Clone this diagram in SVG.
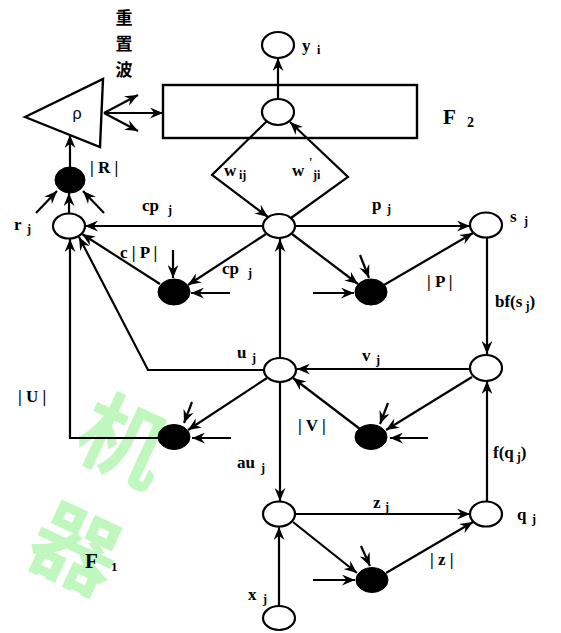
<svg xmlns="http://www.w3.org/2000/svg" width="561" height="633" viewBox="0 0 561 633">
<defs>
<marker id="a" viewBox="0 0 12 10" refX="12" refY="5" markerWidth="13" markerHeight="11" markerUnits="userSpaceOnUse" orient="auto">
<path d="M0,0 L12,5 L0,10 L4,5 z" fill="#000"/>
</marker>
<style>
.n{fill:#fff;stroke:#000;stroke-width:2.2}
.b{fill:#000;stroke:#000;stroke-width:1}
.c line,.c polyline{stroke:#000;stroke-width:2.2;fill:none;marker-end:url(#a)}
.p{stroke:#000;stroke-width:2.4;fill:#fff}
text{font-family:"Liberation Serif","Times New Roman",serif;font-weight:bold;font-size:17px;fill:#000}
.s{font-size:12px}
.w{font-family:"Noto Sans CJK SC",sans-serif;font-size:88px;fill:#bff7bf;font-weight:bold}
.h{font-family:"Noto Sans CJK SC",sans-serif;font-size:17px;font-weight:bold}
</style>
</defs>
<rect width="561" height="633" fill="#fff"/>
<g id="watermark">
<text class="w" x="0" y="0" transform="translate(110,470) rotate(25)" text-anchor="middle">机</text>
<text class="w" x="0" y="0" transform="translate(62,578) rotate(25)" text-anchor="middle">器</text>
</g>
<g id="F2-box"><rect class="p" x="163" y="85" width="254" height="53"/></g>
<g id="rho"><polygon class="p" points="25,117 103,79 100,147"/><text x="77" y="119" text-anchor="middle" style="font-family:'Liberation Sans',sans-serif;font-weight:normal;font-size:16px">ρ</text></g>
<g id="connectors" class="c">
<line x1="278" y1="99" x2="278" y2="58"/>
<line x1="70" y1="167" x2="70" y2="135"/>
<line x1="104" y1="113" x2="138" y2="95"/>
<line x1="104" y1="113" x2="163" y2="113"/>
<line x1="104" y1="113" x2="138" y2="131"/>
<line x1="36" y1="213" x2="57" y2="191"/>
<line x1="104" y1="213" x2="83" y2="191"/>
<line x1="69" y1="213" x2="69" y2="193"/>
<line x1="263" y1="226" x2="85" y2="226"/>
<line x1="295" y1="226" x2="470" y2="226"/>
<polyline points="267,121 212,175 268,217"/>
<polyline points="291,218 348,177 290,122"/>
<line x1="266" y1="234" x2="188" y2="285"/>
<line x1="173" y1="250" x2="173" y2="278"/>
<line x1="230" y1="293" x2="191" y2="293"/>
<line x1="160" y1="284" x2="82" y2="234"/>
<line x1="292" y1="234" x2="358" y2="284"/>
<line x1="360" y1="255" x2="369" y2="278"/>
<line x1="313" y1="293" x2="354" y2="293"/>
<line x1="384" y1="285" x2="473" y2="233"/>
<line x1="487" y1="238" x2="487" y2="354"/>
<line x1="470" y1="369" x2="297" y2="369"/>
<line x1="280" y1="358" x2="280" y2="239"/>
<polyline points="264,370 148,370 79,237"/>
<line x1="267" y1="378" x2="188" y2="430"/>
<line x1="192" y1="402" x2="184" y2="423"/>
<line x1="231" y1="438" x2="192" y2="438"/>
<polyline points="158,438 70,438 70,239"/>
<line x1="472" y1="377" x2="386" y2="430"/>
<line x1="388" y1="403" x2="380" y2="424"/>
<line x1="428" y1="438" x2="390" y2="438"/>
<line x1="360" y1="429" x2="293" y2="378"/>
<line x1="487" y1="501" x2="487" y2="381"/>
<line x1="280" y1="382" x2="280" y2="501"/>
<line x1="295" y1="514" x2="470" y2="514"/>
<line x1="293" y1="522" x2="357" y2="573"/>
<line x1="361" y1="546" x2="370" y2="566"/>
<line x1="313" y1="580" x2="355" y2="580"/>
<line x1="386" y1="573" x2="473" y2="522"/>
<line x1="279" y1="606" x2="279" y2="527"/>
</g>
<g id="yi"><ellipse class="n" cx="278" cy="45" rx="16" ry="13"/></g>
<g id="F2node"><ellipse class="n" cx="278" cy="112" rx="16" ry="13"/></g>
<g id="R"><ellipse class="b" cx="70" cy="180" rx="15" ry="13"/></g>
<g id="rj"><ellipse class="n" cx="69" cy="226" rx="16" ry="12.5"/></g>
<g id="center"><ellipse class="n" cx="279" cy="226" rx="16" ry="12"/></g>
<g id="sj"><ellipse class="n" cx="486" cy="225" rx="16" ry="12.5"/></g>
<g id="A"><ellipse class="b" cx="174" cy="292" rx="16" ry="13"/></g>
<g id="B"><ellipse class="b" cx="371" cy="292" rx="16" ry="13"/></g>
<g id="uj"><ellipse class="n" cx="280" cy="370" rx="16" ry="12"/></g>
<g id="vnode"><ellipse class="n" cx="486" cy="368" rx="16" ry="13"/></g>
<g id="C"><ellipse class="b" cx="174" cy="437" rx="16" ry="12.5"/></g>
<g id="D"><ellipse class="b" cx="371" cy="437" rx="16" ry="12.5"/></g>
<g id="znode"><ellipse class="n" cx="279" cy="514" rx="16" ry="12.5"/></g>
<g id="qj"><ellipse class="n" cx="486" cy="514" rx="16" ry="12.5"/></g>
<g id="E"><ellipse class="b" cx="372" cy="580" rx="16" ry="12.5"/></g>
<g id="xj"><ellipse class="n" cx="279" cy="618" rx="16" ry="12"/></g>
<g id="labels">
<text class="h" x="124" y="24" text-anchor="middle">重</text>
<text class="h" x="124" y="50" text-anchor="middle">置</text>
<text class="h" x="124" y="76" text-anchor="middle">波</text>
<text x="302" y="51">y</text><text class="s" x="317" y="54">i</text>
<text x="443" y="124" style="font-size:21px">F</text><text x="467" y="127" style="font-size:14px">2</text>
<text x="90" y="173">| R |</text>
<text x="14" y="230">r</text><text class="s" x="27" y="233">j</text>
<text x="142" y="211">cp</text><text class="s" x="168" y="214">j</text>
<text x="372" y="210">p</text><text class="s" x="387" y="213">j</text>
<text x="510" y="222">s</text><text class="s" x="524" y="225">j</text>
<text x="224" y="176">w</text><text class="s" x="239" y="179">ij</text>
<text x="292" y="176">w</text><text class="s" x="309" y="166">'</text><text class="s" x="313" y="179">ji</text>
<text x="120" y="258">c | P |</text>
<text x="222" y="274">cp</text><text class="s" x="248" y="277">j</text>
<text x="427" y="287">| P |</text>
<text x="495" y="307">bf(s<tspan class="s" dx="3" dy="3">j</tspan><tspan dy="-3">)</tspan></text>
<text x="362" y="361">v</text><text class="s" x="376" y="364">j</text>
<text x="237" y="358">u</text><text class="s" x="252" y="362">j</text>
<text x="18" y="402">| U |</text>
<text x="298" y="431">| V |</text>
<text x="493" y="458">f(q<tspan class="s" dx="3" dy="3">j</tspan><tspan dy="-3">)</tspan></text>
<text x="237" y="468">au</text><text class="s" x="261" y="472">j</text>
<text x="373" y="508">z</text><text class="s" x="385" y="511">j</text>
<text x="517" y="520">q</text><text class="s" x="532" y="523">j</text>
<text x="430" y="565">| z |</text>
<text x="248" y="600">x</text><text class="s" x="263" y="603">j</text>
<text x="85" y="568" style="font-size:21px">F</text><text x="111" y="571" style="font-size:13px">1</text>
</g>
</svg>
